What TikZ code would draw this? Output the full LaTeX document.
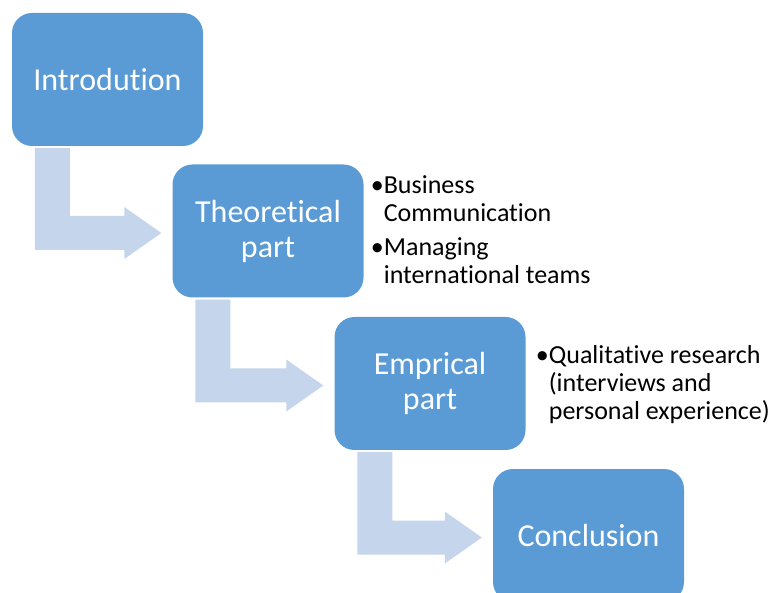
\documentclass[tikz,border=0pt]{standalone}
\usepackage{fontspec}
\setmainfont{Carlito}[Ligatures={NoCommon,NoRequired,NoContextual},RawFeature={-liga;-clig;-calt}]
\usetikzlibrary{calc}

\definecolor{boxblue}{RGB}{91,155,213}
\definecolor{arrowblue}{RGB}{197,213,235}

\newcommand{\StepArrow}[2]{
    \fill[arrowblue]
        let \p1 = (#1.south west), \p2 = (#2.west) in
        (\x1+23pt,\y1-2pt) -- (\x1+58pt,\y1-2pt) -- (\x1+58pt,\y2+15pt)
        -- (\x2-48pt,\y2+15pt) -- (\x2-48pt,\y2+24pt) -- (\x2-11pt,\y2-2pt)
        -- (\x2-48pt,\y2-28pt) -- (\x2-48pt,\y2-19pt) -- (\x1+23pt,\y2-19pt) -- cycle;
}

\begin{document}
\begin{tikzpicture}[
  x=1pt, y=1pt,
  stepbox/.style={rectangle, rounded corners=20pt, fill=boxblue, text=white,
    minimum width=191pt, minimum height=133pt, inner sep=0pt, align=center,
    font=\fontsize{32}{35}\selectfont},
  bullets/.style={anchor=north west, inner sep=0pt,
    font=\fontsize{26}{28}\selectfont}
  ]
  \useasboundingbox (0,0) rectangle (774,-593);
  \clip (0,0) rectangle (774,-593);

  \node[stepbox] (intro)  at (107.5,-79.5) {Introdution};
  \node[stepbox] (theo)   at (268,-231)    {Theoretical\\part};
  \node[stepbox] (emp)    at (430,-383.5)  {Emprical\\part};
  \node[stepbox] (concl)  at (588.5,-535.5) {Conclusion};

  \StepArrow{intro}{theo}
  \StepArrow{theo}{emp}
  \StepArrow{emp}{concl}

  \node[bullets] (theolist) at ($(theo.north east)+(7,-9)$)
    {\begin{tabular}{@{}l@{}l@{}}
      \textbullet & Business\\
                  & Communication\\[6pt]
      \textbullet & Managing\\
                  & international teams
    \end{tabular}};
  \node[bullets] (emplist) at ($(emp.north east)+(10,-27)$)
    {\begin{tabular}{@{}l@{}l@{}}
      \textbullet & Qualitative research\\
                  & (interviews and\\
                  & personal experience)
    \end{tabular}};
\end{tikzpicture}
\end{document}
